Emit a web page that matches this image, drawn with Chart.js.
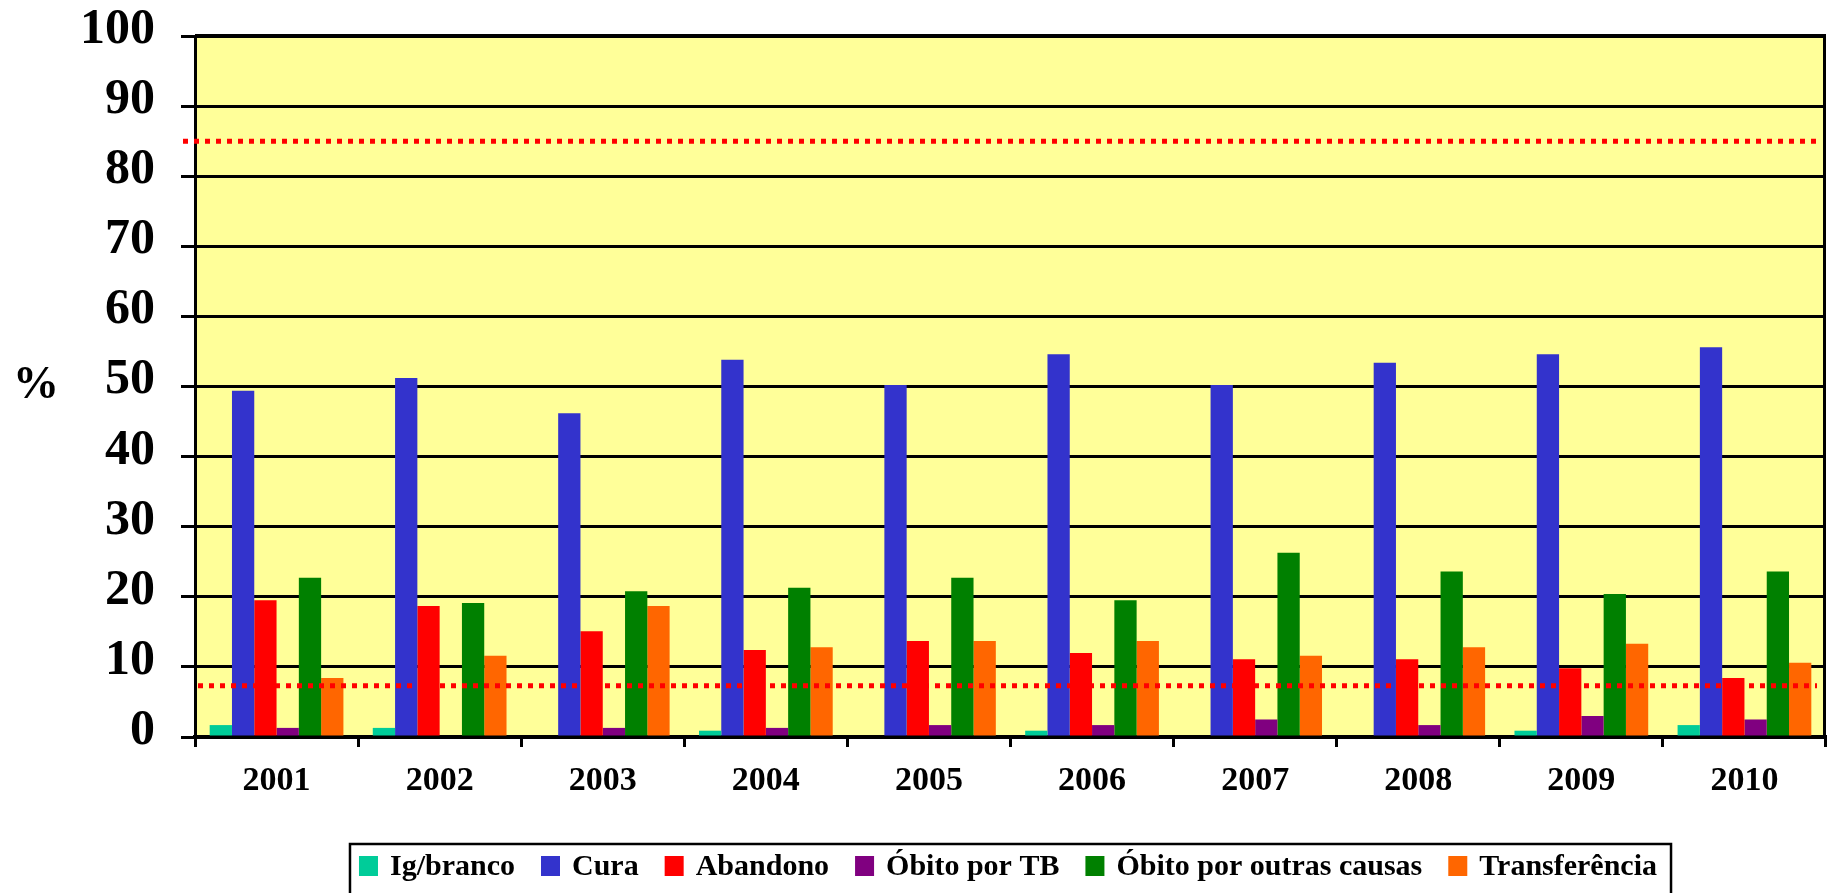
<!DOCTYPE html>
<html>
<head>
<meta charset="utf-8">
<script src="https://cdn.jsdelivr.net/npm/chart.js@4.4.1/dist/chart.umd.min.js"></script>
<style>
html,body{margin:0;padding:0;background:#ffffff;}
#wrap{width:1827px;height:893px;position:relative;}
</style>
</head>
<body>
<div id="wrap"><canvas id="c" width="1827" height="893"></canvas></div>
<script>
// ---- data ----
const years = ['2001','2002','2003','2004','2005','2006','2007','2008','2009','2010'];
const seriesLabels = ['Ig/branco','Cura','Abandono','Óbito por TB','Óbito por outras causas','Transferência'];
const igBranco      = [1.7, 1.3, 0,   0.9, 0,   0.9, 0,   0,   0.9, 1.7];
const cura          = [49.4,51.2,46.2,53.8,50.2,54.6,50.2,53.4,54.6,55.6];
const abandono      = [19.5,18.7,15.1,12.4,13.7,12.0,11.1,11.1,9.8, 8.4];
const obitoTB       = [1.3, 0,   1.3, 1.3, 1.7, 1.7, 2.5, 1.7, 3.0, 2.5];
const obitoOutras   = [22.7,19.1,20.8,21.3,22.7,19.5,26.3,23.6,20.4,23.6];
const transferencia = [8.4, 11.6,18.7,12.8,13.7,13.7,11.6,12.8,13.3,10.6];
const yTickValues   = [0,10,20,30,40,50,60,70,80,90,100];
const targetLines   = [85, 7.3];
const yAxisTitle    = '%';

// ---- styles ----
const colors = ['#00CC99','#3333CC','#FF0000','#800080','#008000','#FF6600'];
const serif = '"Liberation Serif","Times New Roman",serif';

const seriesData = [igBranco, cura, abandono, obitoTB, obitoOutras, transferencia];

const bgPlugin = {
  id:'bg',
  beforeDraw(chart){
    const {ctx, chartArea:a} = chart;
    ctx.save();
    ctx.fillStyle = '#FFFF99';
    ctx.fillRect(a.left, a.top, a.right-a.left, a.bottom-a.top);
    ctx.restore();
  }
};

const overlayPlugin = {
  id:'overlay',
  afterDatasetsDraw(chart){
    const {ctx, chartArea:a, scales} = chart;
    ctx.save();
    ctx.strokeStyle = '#FF0000';
    ctx.lineWidth = 5;
    ctx.setLineDash([5,6]);
    targetLines.forEach((v,i)=>{
      const y = scales.y.getPixelForValue(v);
      const x0 = i===0 ? a.left-12 : a.left+3;
      ctx.beginPath();
      ctx.moveTo(x0, y);
      ctx.lineTo(a.right-9, y);
      ctx.stroke();
    });
    ctx.restore();
  },
  afterDraw(chart){
    const {ctx, chartArea:a} = chart;
    ctx.save();
    // right border of plot
    ctx.strokeStyle = '#000';
    ctx.lineWidth = 3;
    ctx.beginPath();
    ctx.moveTo(a.right-1.5, a.top-1.5);
    ctx.lineTo(a.right-1.5, a.bottom);
    ctx.stroke();
    // top border thicker
    ctx.lineWidth = 4;
    ctx.beginPath();
    ctx.moveTo(a.left, a.top);
    ctx.lineTo(a.right, a.top);
    ctx.stroke();

    // y axis title
    ctx.fillStyle = '#000';
    ctx.font = 'bold 46px ' + serif;
    ctx.textAlign = 'center';
    ctx.textBaseline = 'middle';
    ctx.fillText(yAxisTitle, 36, 386);

    // legend
    ctx.font = 'bold 30px ' + serif;
    const items = chart.data.datasets.map(d=>({label:d.label, color:d.backgroundColor, w:ctx.measureText(d.label).width}));
    const box = 19, gapText = 12, gapItem = 26, padL = 9, padR = 14;
    const total = padL + padR + items.reduce((s,it)=>s+box+gapText+it.w,0) + gapItem*(items.length-1);
    const cx = (a.left + a.right)/2;
    let x = cx - total/2;
    const top = 844, cy = 866;
    ctx.lineWidth = 2.5;
    ctx.strokeStyle = '#000';
    ctx.strokeRect(x, top, total, 70);
    x += padL;
    ctx.textAlign = 'left';
    ctx.textBaseline = 'middle';
    items.forEach(it=>{
      ctx.fillStyle = it.color;
      ctx.fillRect(x, cy-10, box, box+1);
      x += box + gapText;
      ctx.fillStyle = '#000';
      ctx.fillText(it.label, x, cy+1);
      x += it.w + gapItem;
    });
    ctx.restore();
  }
};

new Chart(document.getElementById('c'), {
  type:'bar',
  data:{
    labels: years,
    datasets: seriesLabels.map((lab,i)=>({
      label: lab,
      data: seriesData[i],
      backgroundColor: colors[i],
      borderWidth: 0,
      categoryPercentage: 0.82,
      barPercentage: 1.0
    }))
  },
  options:{
    responsive:false,
    animation:false,
    devicePixelRatio:1,
    layout:{padding:{top:36,right:1,left:0,bottom:0}},
    plugins:{legend:{display:false}, tooltip:{enabled:false}, title:{display:false}},
    scales:{
      x:{
        offset:true,
        grid:{display:true, drawOnChartArea:false, drawTicks:true, tickLength:10, color:'#000', lineWidth:3, offset:true},
        border:{display:true, color:'#000', width:4},
        ticks:{color:'#000', font:{family:serif, weight:'bold', size:34}, padding:14, maxRotation:0, autoSkip:false},
        afterFit(s){ s.height = 156; }
      },
      y:{
        min:0, max:100,
        afterBuildTicks(s){ s.ticks = yTickValues.map(v=>({value:v})); },
        grid:{display:true, color:'#000', lineWidth:3, tickLength:14, drawTicks:true},
        border:{display:true, color:'#000', width:3},
        ticks:{color:'#000', font:{family:serif, weight:'bold', size:50, lineHeight:0.6}, padding:26, labelOffset:-6},
        afterFit(s){ s.width = 195; s.paddingTop = 0; s.paddingBottom = 0; }
      }
    }
  },
  plugins:[bgPlugin, overlayPlugin]
});
</script>
</body>
</html>
